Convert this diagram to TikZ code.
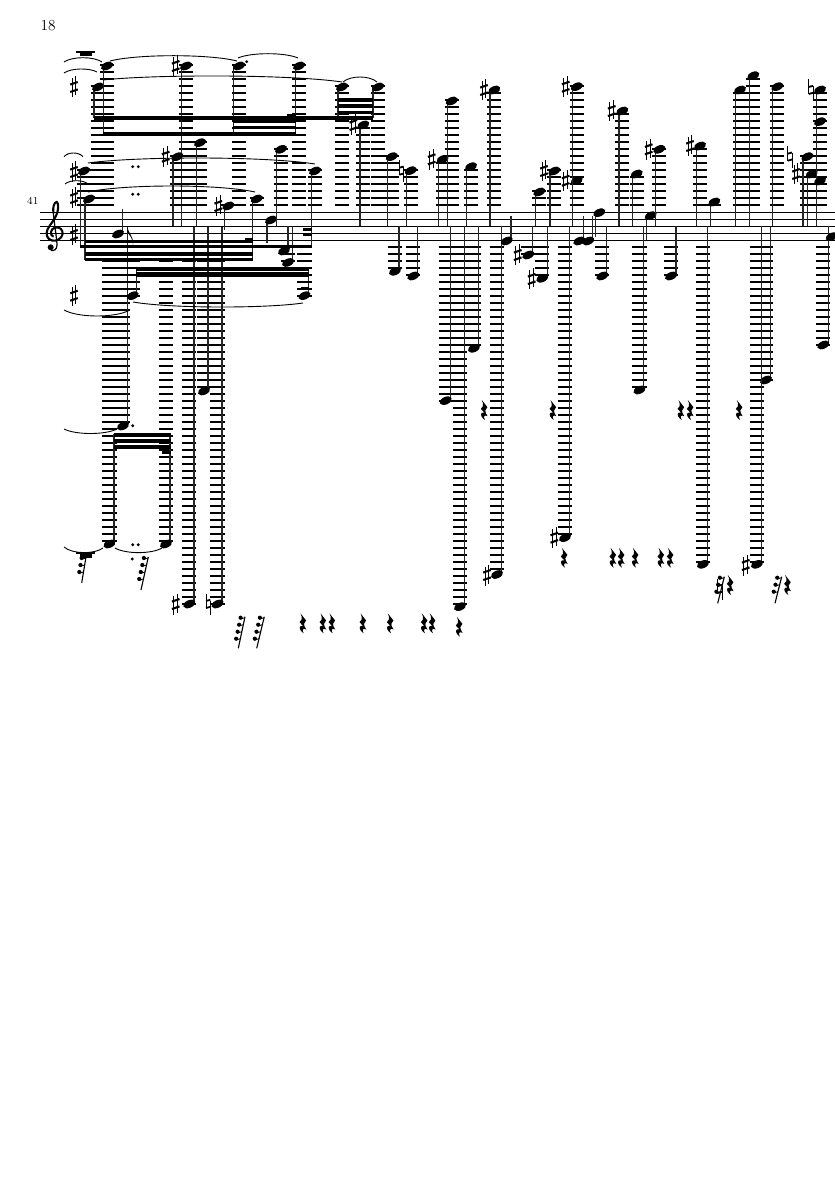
\documentclass[tikz,border=0pt]{standalone}
\tikzset{
  ledger/.style={line width=1.25pt,black},
  stemline/.style={line width=0.85pt,black!85},
  staffline/.style={line width=0.7pt,black},
  slurline/.style={line width=0.65pt,black},
  beamline/.style={black},
}
% ledger lines for a head
\newcommand\Led[2]{%
  \pgfmathtruncatemacro\nA{floor((212.3-#2+1.5)/7)}%
  \ifnum\nA>0 \foreach\k in {1,...,\nA}{\draw[ledger](#1-7.1,{212.3-7*\k})--(#1+7.1,{212.3-7*\k});}\fi
  \pgfmathtruncatemacro\nB{floor((#2-240.3+1.5)/7)}%
  \ifnum\nB>0 \foreach\k in {1,...,\nB}{\draw[ledger](#1-7.1,{240.3+7*\k})--(#1+7.1,{240.3+7*\k});}\fi
}
\newcommand\Head[2]{\fill[shift={(#1,#2)}] (0,0) ellipse [x radius=6.4,y radius=3.8,rotate=24];}
\newcommand\Note[4]{\Led{#1}{#2}\draw[stemline](#3,#2)--(#3,#4);\Head{#1}{#2}}
\newcommand\Beam[4]{\fill[beamline](#1,#3-#4/2) rectangle (#2,#3+#4/2);}
\newcommand\Sharp[2]{\begin{scope}[shift={(#1,#2)}]
  \draw[line width=0.6pt](-1.8,-8.5)--(-1.8,10.5);\draw[line width=0.6pt](1.8,-10.5)--(1.8,8.5);
  \draw[line width=1.5pt](-3.8,-2.4)--(3.8,-5);\draw[line width=1.5pt](-3.8,5)--(3.8,2.4);
  \end{scope}}
\newcommand\Natural[2]{\begin{scope}[shift={(#1,#2)}]
  \draw[line width=0.6pt](-2.3,-10.5)--(-2.3,4.5);\draw[line width=0.6pt](2,-3.5)--(2,11);
  \draw[line width=1.3pt](-2.3,-3)--(2,-4.2);\draw[line width=1.3pt](-2.3,4)--(2,2.8);
  \end{scope}}
\newcommand\Rest[2]{\fill[shift={(#1,#2)}] (-2.2,-10) -- (3.4,-2.8) .. controls (1,-1.2) and (0.2,1.4) .. (3.6,6.2)
  .. controls (0.8,4.6) and (-1.4,6) .. (1,10) .. controls (-2.2,8) and (-4,4.6) .. (-2.4,3)
  .. controls (-1.4,2.2) and (0,2.6) .. (0.8,3.2) -- (-3.2,-1.2) .. controls (-1.2,-3) and (-0.2,-4.4) .. (-1,-6.6) -- cycle;}
\newcommand\Frest[5]{%
  \draw[line width=0.8pt](#1,#2)--(#3,#4);
  \foreach\i in {1,...,#5}{%
    \pgfmathsetmacro\yb{#2+1+7*(\i-1)}%
    \pgfmathsetmacro\xb{#1+(#3-#1)*(\yb-#2)/(#4-#2)}%
    \fill (\xb-4.2,\yb) circle [radius=2.1];
    \draw[line width=0.6pt](\xb-4,\yb+1.2)--(\xb,\yb);
  }}
\newcommand\Slur[5]{%
  \pgfmathsetmacro\ca{#1+(#3-#1)*0.22}\pgfmathsetmacro\cb{#1+(#3-#1)*0.78}%
  \pgfmathsetmacro\cy{(#5-0.125*#2-0.125*#4)/0.75}%
  \draw[slurline](#1,#2) .. controls (\ca,\cy) and (\cb,\cy) .. (#3,#4);}
\newcommand\Dot[2]{\fill (#1,#2) circle [radius=1.6];}
\begin{document}
\begin{tikzpicture}[x=0.72pt,y=-0.72pt]
\useasboundingbox (0,0) rectangle (835,1181);
\fill[white] (0,0) rectangle (835,1181);
% texts
\node[inner sep=0,font=\fontsize{11}{12}\selectfont] (pagenum) at (48,26) {18};
\node[inner sep=0,font=\fontsize{7.6}{8}\selectfont] (barnum) at (32.8,201) {41};
% staff
\foreach \s in {212.3,219.3,226.3,233.3,240.3}{\draw[staffline](40,\s)--(835,\s);}
% clef
\draw[line width=1.5pt,line cap=round] (53,236.5) .. controls (50,235) and (50,229) .. (55,227.5)
  .. controls (60,226.5) and (63,230) .. (62.6,234) .. controls (62,239) and (56,241.5) .. (52,240.5)
  .. controls (47,239.5) and (45.5,234) .. (47.5,229.5) .. controls (50,224) and (57,218) .. (58,209)
  .. controls (58.4,205) and (57.6,202) .. (56.6,202) .. controls (54,202) and (52.6,208) .. (53.4,213);
\draw[line width=0.9pt] (53.4,213) .. controls (54,222) and (57,240) .. (57,245) .. controls (57,249.5) and (54,251) .. (51,250.5);
\fill (50.7,247.3) circle [radius=3];
% key signature and other accidentals
\Sharp{74}{235}\Sharp{74}{87}\Sharp{74}{172}\Sharp{74}{198}\Sharp{74}{295.7}
\Sharp{175.7}{66}\Sharp{165.7}{156.7}\Sharp{218.3}{206}\Sharp{353.3}{125}
\Sharp{431.7}{159.3}\Sharp{484}{90}\Sharp{517.7}{255}\Sharp{531.7}{279}\Sharp{544}{171}
\Sharp{565.7}{180.7}\Sharp{565.7}{86.7}\Sharp{554.3}{537.7}\Sharp{611.7}{111}\Sharp{648.7}{149.3}
\Sharp{690}{146}\Sharp{745.7}{565}\Sharp{796}{174}\Sharp{175.7}{604}\Sharp{487}{575}
\Natural{208.3}{604}\Natural{401.7}{170.7}\Natural{790}{156.7}\Natural{811}{90}
% top rest
\draw[line width=1.2pt](76,52)--(95,52);\fill (80,52) rectangle (92,55.6);
\fill (76,552.3) rectangle (95,553.7);\fill (80,553.7) rectangle (92,558);
% notes
\Note{98}{87}{94}{118}
\Note{107}{66}{103.3}{133}
\Note{186}{66}{181.7}{226}
\Note{239}{66}{233.3}{133}
\Note{299}{66}{295.7}{133}
\Note{342}{87}{338}{118}
\Note{378}{87}{373}{118}
\Note{363.3}{125}{360}{226}
\Note{84}{171}{80.7}{247}
\Note{89}{199}{85}{260}
\Note{118}{234}{122.7}{209}
\Note{123}{426}{127.3}{226.7}
\Note{132.7}{295.7}{136.7}{268}
\Note{304.5}{295.7}{308.3}{268}
\Note{109.5}{544}{114}{434}
\Note{166}{544}{170}{434}
\Note{177.3}{156.7}{173}{226}
\Note{200}{142.7}{196.3}{226}
\Note{189.3}{604}{194}{226.7}
\Note{204}{391}{208}{226.7}
\Note{217.5}{604}{222}{226.7}
\Note{228.3}{206}{224.3}{230}
\Note{256.7}{199}{252.3}{260}
\Note{271}{220}{267}{243}
\Note{281}{149.3}{276.7}{226}
\Note{315}{171}{311.7}{247}
\Note{284}{251}{288}{226}
\Note{288}{262.5}{292.3}{226}
\Note{391.7}{156.7}{387.3}{226}
\Note{410.7}{170.7}{406.7}{226}
\Note{395}{271.3}{399}{226}
\Note{413.3}{276}{417.7}{226}
\Note{442.7}{159.3}{438.3}{226}
\Note{451.7}{101}{447.3}{226}
\Note{445.7}{400.7}{450.7}{226}
\Note{460}{606.7}{464.3}{226}
\Note{471}{166.7}{466.7}{226}
\Note{474}{348.3}{478.3}{226}
\Note{494.3}{90}{490}{226}
\Note{497}{574.5}{501.7}{226}
\Note{506.7}{241}{511}{216}
\Note{528.3}{255}{532.7}{226}
\Note{542.3}{278.3}{547.3}{226}
\Note{539.3}{192}{535.7}{226}
\Note{554.3}{171}{550}{226}
\Note{576.7}{180.7}{572.3}{226}
\Note{576.7}{86.7}{572.3}{226}
\Note{565}{537.7}{569.7}{226}
\Note{579.3}{241}{583.7}{216}
\Note{588.3}{241}{592.7}{216}
\Note{599.3}{212.7}{595.7}{237}
\Note{602.3}{276}{606.7}{226}
\Note{622.3}{111}{619}{226}
\Note{636.7}{174}{632.3}{226}
\Note{639.5}{390}{643.7}{226}
\Note{650.7}{215.7}{646.7}{240}
\Note{659.3}{149.3}{655.7}{226}
\Note{671}{276}{676}{226}
\Note{700}{146}{696.3}{226}
\Note{703}{564.3}{707.7}{226}
\Note{714.3}{202}{710.7}{226}
\Note{740}{90}{735.7}{226}
\Note{753.3}{75.7}{749.7}{226}
\Note{766}{380}{770.3}{226}
\Note{757}{564.3}{761.3}{226}
\Note{777.3}{86.7}{772.7}{226}
\Note{807.3}{156.7}{803}{226}
\Note{811.7}{174}{807.3}{226}
\Note{820}{90}{816.3}{226}
\Note{820}{121.7}{816.3}{226}
\Note{820}{181}{816.3}{226}
\Note{823.3}{345}{828.3}{226}
\Note{831.7}{236.7}{828.3}{240}
% flag
\fill (127.3,226.7) .. controls (128,233) and (134,236) .. (133,245) .. controls (133,238) and (129,235) .. (127.3,232) -- cycle;
% beams upper
\Beam{94}{373}{117.8}{3.6}
\Beam{103}{296}{134}{3.4}
\Beam{233}{296}{121.5}{3}
\Beam{233}{296}{127.6}{3.4}
\Beam{287}{296}{115}{2.4}
\Beam{338}{373}{100}{3.4}
\Beam{338}{373}{106}{3.4}
\Beam{338}{373}{112.5}{3.6}
% beams middle
\Beam{85}{252.7}{241.3}{3}
\Beam{80.3}{312}{246.2}{3.2}
\Beam{85}{252.7}{254.5}{4}
\Beam{85}{252.7}{259.6}{3}
\Beam{245}{252.7}{240}{3}
\Beam{303}{312}{229.5}{2.6}
\Beam{303}{312}{235}{2.6}
\Beam{136.2}{308.8}{269}{3.4}
\Beam{136.2}{308.8}{274.5}{4.2}
\Beam{301}{308.8}{282}{2.6}
\Beam{301}{308.8}{288.5}{2.6}
% beams lower
\Beam{113.5}{170.5}{435}{3.4}
\Beam{113.5}{170.5}{441.3}{4}
\Beam{113.5}{170.5}{447.2}{4.2}
\Beam{162}{170.5}{452.7}{2.6}
% dots
\Dot{246.7}{61.7}\Dot{132.7}{166.7}\Dot{138.3}{166.7}\Dot{132.7}{194.3}\Dot{138.3}{194.3}
\Dot{132.7}{425.7}\Dot{132.7}{544.7}\Dot{138.3}{544.7}\Dot{132.3}{559}
% slurs
\Slur{64}{62}{102}{62}{57.7}
\Slur{64}{73}{97}{72}{69}
\Slur{110}{61}{237}{61}{55.7}
\Slur{238}{58}{298}{58}{53.7}
\Slur{103}{80}{342}{82}{76}
\Slur{343}{82}{377}{82}{77}
\Slur{64}{156.7}{83}{156.7}{153}
\Slur{88}{163}{315}{164}{158}
\Slur{88}{192}{255}{192}{186}
\Slur{65}{184}{88}{184}{180.7}
\Slur{133}{302}{303}{303}{307}
\Slur{64}{310}{130}{310}{316}
\Slur{64}{429}{117}{429}{433.5}
\Slur{64}{547}{103}{548}{552.6}
\Slur{115}{548}{162}{548}{552.6}
% rests
\Frest{86}{557}{81.7}{582.7}{3}
\Frest{148.3}{557}{141}{590}{4}
\Frest{245}{616.7}{238.3}{648.3}{4}
\Frest{264.3}{616.7}{256.7}{648.3}{4}
\Frest{724.3}{576.7}{717.7}{603.3}{3}
\Frest{781.7}{576.7}{775}{603.3}{3}
\Natural{720}{589}
\foreach \p in {302.7,322.7,331.7,362.7,390,424,432}{\Rest{\p}{623.3}}
\Rest{459}{626.7}
\foreach \p in {484,552.7,680.7,690,739}{\Rest{\p}{410}}
\foreach \p in {564,612.7,621,635,660.7,670}{\Rest{\p}{557.7}}
\Rest{730}{585}\Rest{787.3}{585}
\end{tikzpicture}
\end{document}
